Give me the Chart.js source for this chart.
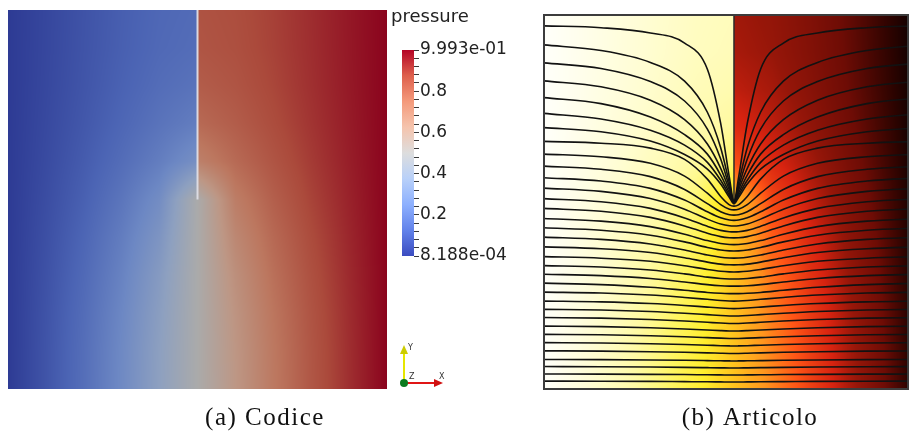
<!DOCTYPE html>
<html>
<head>
<meta charset="utf-8">
<script src="https://cdn.jsdelivr.net/npm/chart.js@4.4.0/dist/chart.umd.min.js"></script>
<style>
html, body { margin: 0; padding: 0; background: #fff; overflow: hidden; width: 909px; height: 439px; }
canvas { position: absolute; top: 0; }
#field { left: 0; }
#bar { left: 390px; }
#lines { left: 536px; }
</style>
</head>
<body>
<canvas id="field" width="540" height="439"></canvas>
<canvas id="bar" width="140" height="400"></canvas>
<canvas id="lines" width="373" height="439"></canvas>
<script>
// pressure, left of the slit and right of it
var gridColsL = [0, 0.1, 0.2, 0.3, 0.4, 0.5];
var gridColsR = [0.5, 0.6, 0.7, 0.8, 0.9, 1.0];
var gridRows = [1.0, 0.9, 0.8, 0.7, 0.6, 0.5, 0.4, 0.3, 0.2, 0.1, 0.0];

var pressureL = [
    [0, 0.036, 0.073, 0.108, 0.136, 0.150],
    [0, 0.037, 0.075, 0.111, 0.141, 0.157],
    [0, 0.039, 0.079, 0.119, 0.155, 0.178],
    [0, 0.043, 0.087, 0.133, 0.178, 0.215],
    [0, 0.048, 0.099, 0.155, 0.215, 0.290],
    [0, 0.055, 0.114, 0.185, 0.275, 0.500],
    [0, 0.062, 0.130, 0.212, 0.315, 0.500],
    [0, 0.068, 0.143, 0.232, 0.345, 0.500],
    [0, 0.073, 0.153, 0.248, 0.362, 0.500],
    [0, 0.076, 0.159, 0.257, 0.372, 0.500],
    [0, 0.077, 0.161, 0.260, 0.376, 0.500]
];

var pressureR = [
    [0.850, 0.864, 0.892, 0.927, 0.964, 1],
    [0.843, 0.859, 0.889, 0.925, 0.963, 1],
    [0.822, 0.845, 0.881, 0.921, 0.961, 1],
    [0.785, 0.822, 0.867, 0.913, 0.957, 1],
    [0.710, 0.785, 0.845, 0.901, 0.952, 1],
    [0.500, 0.725, 0.815, 0.886, 0.945, 1],
    [0.500, 0.685, 0.788, 0.870, 0.938, 1],
    [0.500, 0.655, 0.768, 0.857, 0.932, 1],
    [0.500, 0.638, 0.752, 0.847, 0.927, 1],
    [0.500, 0.628, 0.743, 0.841, 0.924, 1],
    [0.500, 0.624, 0.740, 0.839, 0.923, 1]
];

// the fault (slit) from the tip up to the top
var slitX = [0.5, 0.5];
var slitY = [0.5, 1.0];

// colour bar
var barMin = 8.188e-4;
var barMax = 0.9993;
var barTicks = [8.188e-4, 0.04, 0.08, 0.12, 0.16, 0.2, 0.24, 0.28, 0.32, 0.36, 0.4, 0.44, 0.48,
    0.52, 0.56, 0.6, 0.64, 0.68, 0.72, 0.76, 0.8, 0.84, 0.88, 0.92, 0.96, 0.9993];
var barLabels = ['8.188e-04', '', '', '', '', '0.2', '', '', '', '', '0.4', '', '',
    '', '', '0.6', '', '', '', '', '0.8', '', '', '', '', '9.993e-01'];

// streamlines of panel (b): y at each streamX
var streamX = [0, 0.15, 0.28, 0.37, 0.43, 0.465, 0.488, 0.5, 0.512, 0.535, 0.57, 0.63, 0.72, 0.85, 1];
var streamY = [
    [0.021, 0.0208, 0.0203, 0.0197, 0.0193, 0.019, 0.0188, 0.0187, 0.0188, 0.019, 0.0193, 0.0197, 0.0203, 0.0208, 0.021],
    [0.040, 0.0397, 0.0392, 0.0386, 0.038, 0.0377, 0.0375, 0.0374, 0.0375, 0.0377, 0.038, 0.0386, 0.0392, 0.0397, 0.040],
    [0.060, 0.0596, 0.0588, 0.0579, 0.0571, 0.0566, 0.0562, 0.0561, 0.0562, 0.0566, 0.0571, 0.0579, 0.0588, 0.0596, 0.060],
    [0.079, 0.0786, 0.0777, 0.0767, 0.0759, 0.0754, 0.0751, 0.0749, 0.0751, 0.0754, 0.0759, 0.0767, 0.0777, 0.0786, 0.079],
    [0.102, 0.1013, 0.0997, 0.0981, 0.0967, 0.0957, 0.0951, 0.0949, 0.0951, 0.0957, 0.0967, 0.0981, 0.0997, 0.1013, 0.102],
    [0.124, 0.1231, 0.1211, 0.119, 0.1171, 0.1158, 0.1152, 0.115, 0.1152, 0.1158, 0.1171, 0.119, 0.1211, 0.1231, 0.124],
    [0.146, 0.1449, 0.1425, 0.1398, 0.1374, 0.1359, 0.1352, 0.135, 0.1352, 0.1359, 0.1374, 0.1398, 0.1425, 0.1449, 0.146],
    [0.168, 0.1667, 0.1638, 0.1606, 0.1578, 0.1561, 0.1552, 0.155, 0.1552, 0.1561, 0.1578, 0.1606, 0.1638, 0.1667, 0.168],
    [0.191, 0.1894, 0.1859, 0.1818, 0.1784, 0.1763, 0.1753, 0.175, 0.1753, 0.1763, 0.1784, 0.1818, 0.1859, 0.1894, 0.191],
    [0.213, 0.2112, 0.2072, 0.2026, 0.1988, 0.1965, 0.1953, 0.195, 0.1953, 0.1965, 0.1988, 0.2026, 0.2072, 0.2112, 0.213],
    [0.235, 0.233, 0.2286, 0.2234, 0.219, 0.2166, 0.2154, 0.215, 0.2154, 0.2166, 0.219, 0.2234, 0.2286, 0.233, 0.235],
    [0.259, 0.2566, 0.2513, 0.2448, 0.2398, 0.2368, 0.2354, 0.235, 0.2354, 0.2368, 0.2398, 0.2448, 0.2513, 0.2566, 0.259],
    [0.283, 0.2791, 0.272, 0.2639, 0.2582, 0.2559, 0.2551, 0.255, 0.2551, 0.2559, 0.2582, 0.2639, 0.272, 0.2791, 0.283],
    [0.307, 0.3031, 0.2955, 0.2861, 0.2791, 0.2761, 0.2751, 0.275, 0.2751, 0.2761, 0.2791, 0.2861, 0.2955, 0.3031, 0.307],
    [0.330, 0.3262, 0.3183, 0.3078, 0.2992, 0.2954, 0.2942, 0.294, 0.2942, 0.2954, 0.2992, 0.3078, 0.3183, 0.3262, 0.330],
    [0.354, 0.3498, 0.3414, 0.3296, 0.3195, 0.3148, 0.3132, 0.313, 0.3132, 0.3148, 0.3195, 0.3296, 0.3414, 0.3498, 0.354],
    [0.380, 0.3751, 0.3649, 0.351, 0.3393, 0.334, 0.3322, 0.332, 0.3322, 0.334, 0.3393, 0.351, 0.3649, 0.3751, 0.380],
    [0.406, 0.4001, 0.3879, 0.3717, 0.3583, 0.3523, 0.3503, 0.350, 0.3503, 0.3523, 0.3583, 0.3717, 0.3879, 0.4001, 0.406],
    [0.431, 0.4246, 0.4113, 0.3934, 0.3784, 0.3716, 0.3693, 0.369, 0.3693, 0.3716, 0.3784, 0.3934, 0.4113, 0.4246, 0.431],
    [0.456, 0.4488, 0.4341, 0.4138, 0.3968, 0.389, 0.3864, 0.386, 0.3864, 0.389, 0.3968, 0.4138, 0.4341, 0.4488, 0.456],
    [0.483, 0.4751, 0.4588, 0.4361, 0.4166, 0.4075, 0.4044, 0.404, 0.4044, 0.4075, 0.4166, 0.4361, 0.4588, 0.4751, 0.483],
    [0.509, 0.5007, 0.4829, 0.4575, 0.4349, 0.4242, 0.4205, 0.420, 0.4205, 0.4242, 0.4349, 0.4575, 0.4829, 0.5007, 0.509],
    [0.537, 0.5283, 0.5092, 0.4808, 0.4542, 0.4412, 0.4366, 0.436, 0.4366, 0.4412, 0.4542, 0.4808, 0.5092, 0.5283, 0.537],
    [0.565, 0.5561, 0.5364, 0.5051, 0.4737, 0.4576, 0.4518, 0.451, 0.4518, 0.4576, 0.4737, 0.5051, 0.5364, 0.5561, 0.565],
    [0.596, 0.5876, 0.5678, 0.5336, 0.4955, 0.4741, 0.4661, 0.465, 0.4661, 0.4741, 0.4955, 0.5336, 0.5678, 0.5876, 0.596],
    [0.628, 0.621, 0.6035, 0.5693, 0.5234, 0.4931, 0.4808, 0.479, 0.4808, 0.4931, 0.5234, 0.5693, 0.6035, 0.621, 0.628],
    [0.662, 0.6571, 0.644, 0.6139, 0.5612, 0.5149, 0.4925, 0.489, 0.4925, 0.5149, 0.5612, 0.6139, 0.644, 0.6571, 0.662],
    [0.699, 0.688, 0.663, 0.627, 0.588, 0.548, 0.512, 0.495, 0.512, 0.548, 0.588, 0.627, 0.663, 0.688, 0.699],
    [0.737, 0.722, 0.692, 0.652, 0.606, 0.558, 0.518, 0.497, 0.518, 0.558, 0.606, 0.652, 0.692, 0.722, 0.737],
    [0.779, 0.763, 0.727, 0.68, 0.628, 0.572, 0.524, 0.4987, 0.524, 0.572, 0.628, 0.68, 0.727, 0.763, 0.779],
    [0.824, 0.808, 0.772, 0.72, 0.655, 0.59, 0.532, 0.4995, 0.532, 0.59, 0.655, 0.72, 0.772, 0.808, 0.824],
    [0.872, 0.857, 0.822, 0.77, 0.695, 0.615, 0.54, 0.4997, 0.54, 0.615, 0.695, 0.77, 0.822, 0.857, 0.872],
    [0.920, 0.905, 0.873, 0.823, 0.74, 0.645, 0.55, 0.4999, 0.55, 0.645, 0.74, 0.823, 0.873, 0.905, 0.920],
    [0.971, 0.966, 0.952, 0.925, 0.855, 0.71, 0.565, 0.5, 0.565, 0.71, 0.855, 0.925, 0.952, 0.966, 0.971]
];

// colour maps [value, r, g, b]
var coolWarm = [
    [0, 59, 76, 192], [0.125, 98, 130, 234], [0.25, 141, 176, 254], [0.375, 184, 208, 249],
    [0.5, 221, 221, 221], [0.625, 245, 196, 173], [0.75, 244, 154, 123], [0.875, 222, 96, 77],
    [1, 180, 4, 38]
];
var hotMap = [
    [0, 255, 255, 250], [0.1, 255, 253, 210], [0.2, 255, 250, 165], [0.3, 255, 246, 100],
    [0.4, 255, 238, 45], [0.5, 255, 195, 30], [0.6, 255, 150, 30], [0.7, 255, 85, 22],
    [0.8, 215, 35, 16], [0.86, 150, 22, 9], [0.92, 110, 12, 5], [0.97, 42, 3, 0], [1, 0, 0, 0]
];

function mapColor(stops, p) {
    if (p <= stops[0][0]) return stops[0].slice(1);
    for (var i = 1; i < stops.length; i++) {
        if (p <= stops[i][0]) {
            var a = stops[i - 1], b = stops[i];
            var t = (p - a[0]) / (b[0] - a[0]);
            return [a[1] + (b[1] - a[1]) * t, a[2] + (b[2] - a[2]) * t, a[3] + (b[3] - a[3]) * t];
        }
    }
    return stops[stops.length - 1].slice(1);
}

function samplePressure(x, y) {
    var right = x >= 0.5;
    var cols = right ? gridColsR : gridColsL;
    var g = right ? pressureR : pressureL;
    var i = 0;
    while (i < cols.length - 2 && x > cols[i + 1]) i++;
    var j = 0;
    while (j < gridRows.length - 2 && y < gridRows[j + 1]) j++;
    var tx = Math.min(1, Math.max(0, (x - cols[i]) / (cols[i + 1] - cols[i])));
    var ty = Math.min(1, Math.max(0, (gridRows[j] - y) / (gridRows[j] - gridRows[j + 1])));
    var top = g[j][i] * (1 - tx) + g[j][i + 1] * tx;
    var bot = g[j + 1][i] * (1 - tx) + g[j + 1][i + 1] * tx;
    return top * (1 - ty) + bot * ty;
}

function drawField(chart, stops, shade) {
    var a = chart.chartArea;
    var sx = chart.scales.x, sy = chart.scales.y;
    var x0 = Math.round(a.left), y0 = Math.round(a.top);
    var w = Math.round(a.right) - x0, h = Math.round(a.bottom) - y0;
    var off = document.createElement('canvas');
    off.width = w;
    off.height = h;
    var octx = off.getContext('2d');
    var img = octx.createImageData(w, h);
    for (var j = 0; j < h; j++) {
        var yv = sy.getValueForPixel(y0 + j + 0.5);
        for (var i = 0; i < w; i++) {
            var xv = sx.getValueForPixel(x0 + i + 0.5);
            var c = mapColor(stops, samplePressure(xv, yv));
            var k = (j * w + i) * 4;
            img.data[k] = c[0] * shade;
            img.data[k + 1] = c[1] * shade;
            img.data[k + 2] = c[2] * shade;
            img.data[k + 3] = 255;
        }
    }
    octx.putImageData(img, 0, 0);
    chart.ctx.drawImage(off, x0, y0);
}

function caption(ctx, text, x, y) {
    ctx.save();
    ctx.font = '25px "Liberation Serif", serif';
    ctx.letterSpacing = '1.5px';
    ctx.fillStyle = '#111';
    ctx.textAlign = 'center';
    ctx.textBaseline = 'alphabetic';
    ctx.fillText(text, x, y);
    ctx.restore();
}

function baseOptions(padding) {
    return {
        responsive: false,
        animation: false,
        events: [],
        layout: { padding: padding },
        plugins: { legend: { display: false }, tooltip: { enabled: false } },
        scales: {
            x: { type: 'linear', min: 0, max: 1, display: false },
            y: { type: 'linear', min: 0, max: 1, display: false }
        }
    };
}

function pts(xs, ys) {
    return xs.map(function (x, i) { return { x: x, y: ys[i] }; });
}

// (a) Codice
new Chart(document.getElementById('field'), {
    type: 'scatter',
    data: {
        datasets: [{
            data: pts(slitX, slitY),
            showLine: true,
            borderColor: 'rgba(222,222,230,0.95)',
            borderWidth: 2,
            pointRadius: 0
        }]
    },
    options: baseOptions({ left: 8, top: 10, right: 153, bottom: 50 }),
    plugins: [{
        id: 'fieldA',
        beforeDatasetsDraw: function (c) { drawField(c, coolWarm, 0.77); },
        afterDraw: function (c) { caption(c.ctx, '(a) Codice', 265, 425); }
    }]
});

// colour bar + axes triad
var barOpts = baseOptions({ left: 12, top: 50, right: 0, bottom: 144 });
barOpts.scales.y = {
    type: 'linear',
    position: 'right',
    min: barMin,
    max: barMax,
    afterBuildTicks: function (s) { s.ticks = barTicks.map(function (v) { return { value: v }; }); },
    afterFit: function (s) { s.width = 116; },
    grid: { display: true, drawOnChartArea: false, drawTicks: true, tickLength: 5, color: '#3a3a3a', lineWidth: 1 },
    border: { display: false },
    ticks: {
        autoSkip: false,
        padding: 1,
        color: '#222',
        font: { family: '"DejaVu Sans", sans-serif', size: 17 },
        callback: function (v, i) { return barLabels[i]; }
    }
};
new Chart(document.getElementById('bar'), {
    type: 'scatter',
    data: { datasets: [] },
    options: barOpts,
    plugins: [{
        id: 'colourBar',
        beforeDatasetsDraw: function (c) {
            var a = c.chartArea, sy = c.scales.y, ctx = c.ctx;
            var g = ctx.createLinearGradient(0, sy.getPixelForValue(0), 0, sy.getPixelForValue(1));
            coolWarm.forEach(function (s) {
                g.addColorStop(s[0], 'rgb(' + s[1] + ',' + s[2] + ',' + s[3] + ')');
            });
            ctx.fillStyle = g;
            ctx.fillRect(a.left, a.top, a.right - a.left, a.bottom - a.top);
        },
        afterDraw: function (c) {
            var ctx = c.ctx;
            ctx.save();
            ctx.fillStyle = '#222';
            ctx.font = '18px "DejaVu Sans", sans-serif';
            ctx.textBaseline = 'alphabetic';
            ctx.fillText('pressure', 1, 22);
            // triad
            ctx.lineWidth = 2;
            ctx.strokeStyle = '#e6e600';
            ctx.beginPath(); ctx.moveTo(14, 383); ctx.lineTo(14, 352); ctx.stroke();
            ctx.fillStyle = '#cccc00';
            ctx.beginPath(); ctx.moveTo(10, 354); ctx.lineTo(18, 354); ctx.lineTo(14, 345); ctx.closePath(); ctx.fill();
            ctx.strokeStyle = '#e01515';
            ctx.beginPath(); ctx.moveTo(14, 383); ctx.lineTo(45, 383); ctx.stroke();
            ctx.fillStyle = '#d01010';
            ctx.beginPath(); ctx.moveTo(44, 379); ctx.lineTo(44, 387); ctx.lineTo(53, 383); ctx.closePath(); ctx.fill();
            ctx.fillStyle = '#0b7a1e';
            ctx.beginPath(); ctx.arc(14, 383, 4, 0, Math.PI * 2); ctx.fill();
            ctx.fillStyle = '#333';
            ctx.font = '8px "DejaVu Sans", sans-serif';
            ctx.fillText('Y', 18, 350);
            ctx.fillText('Z', 19, 379);
            ctx.fillText('X', 49, 379);
            ctx.restore();
        }
    }]
});

// (b) Articolo
var lineSets = streamY.map(function (ys) {
    return {
        data: pts(streamX, ys),
        showLine: true,
        borderColor: '#121212',
        borderWidth: 1.6,
        pointRadius: 0,
        cubicInterpolationMode: 'monotone',
        capBezierPoints: false
    };
});
lineSets.push({
    data: pts(slitX, slitY),
    showLine: true,
    borderColor: '#2a2a2a',
    borderWidth: 1.5,
    pointRadius: 0
});
var linesOpts = baseOptions({ left: 8, top: 15, right: 1, bottom: 50 });
linesOpts.scales.x.max = 0.958;
new Chart(document.getElementById('lines'), {
    type: 'scatter',
    data: { datasets: lineSets },
    options: linesOpts,
    plugins: [{
        id: 'fieldB',
        beforeDatasetsDraw: function (c) { drawField(c, hotMap, 1); },
        afterDatasetsDraw: function (c) {
            var a = c.chartArea, ctx = c.ctx;
            ctx.save();
            ctx.strokeStyle = '#3c3c3c';
            ctx.lineWidth = 2;
            ctx.strokeRect(a.left, a.top, a.right - a.left, a.bottom - a.top);
            ctx.restore();
        },
        afterDraw: function (c) { caption(c.ctx, '(b) Articolo', 214, 425); }
    }]
});
</script>
</body>
</html>
